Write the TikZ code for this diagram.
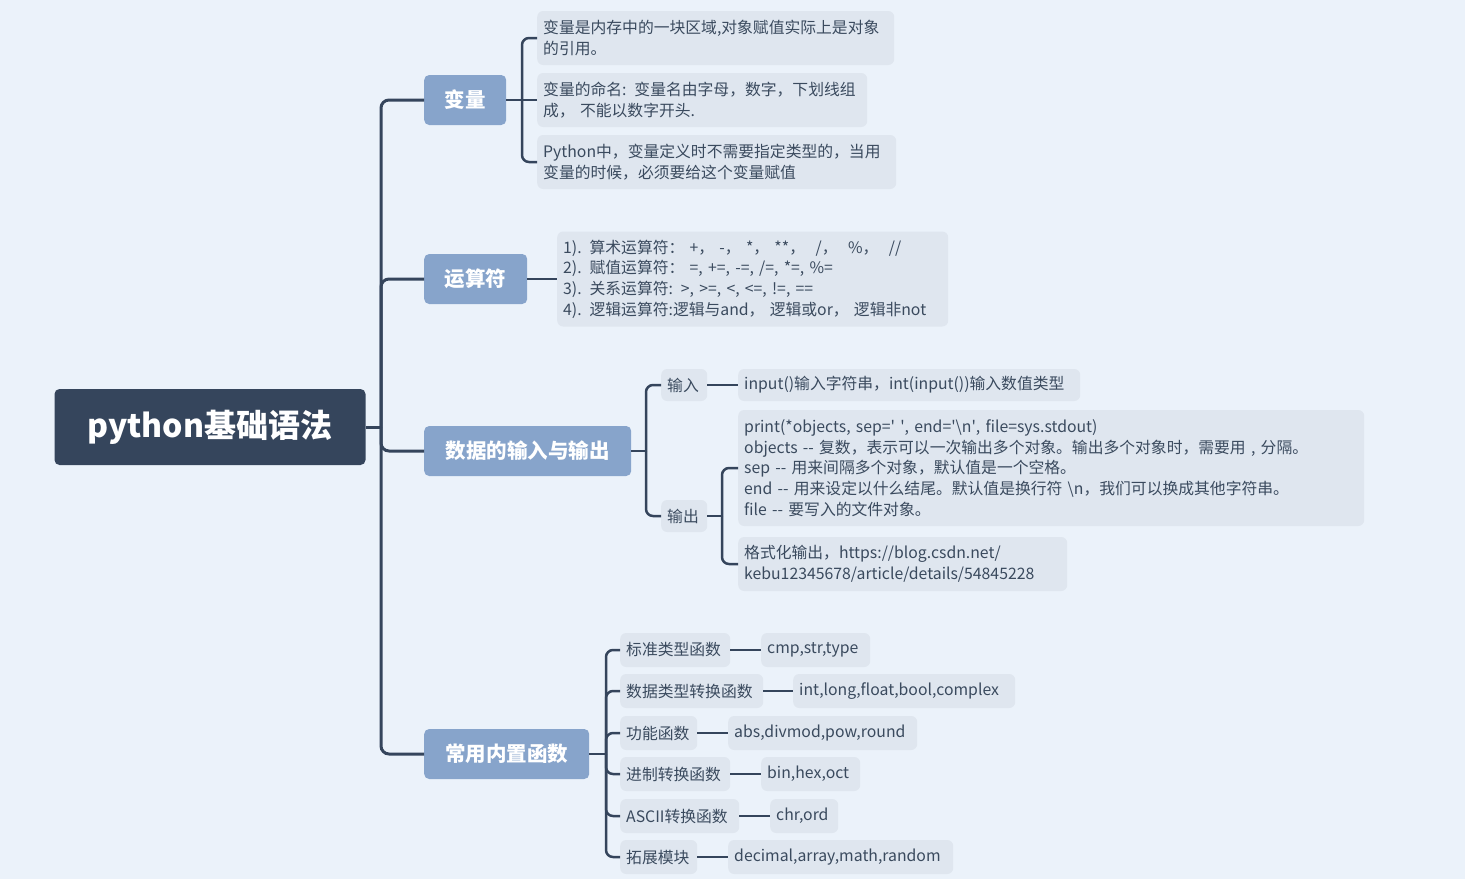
\documentclass[tikz,border=0pt]{standalone}
\usepackage{fontspec}
\newfontfamily\cjk{Noto Sans CJK SC}
\usepackage{tikz}
\usetikzlibrary{positioning, calc}
\definecolor{bgc}{HTML}{EBF2FA}
\definecolor{rootc}{HTML}{35455C}
\definecolor{topicc}{HTML}{87A4CB}
\definecolor{leafc}{HTML}{DFE6EF}
\definecolor{linec}{HTML}{35455C}
\definecolor{textc}{HTML}{3A4A5E}

\begin{document}
\begin{tikzpicture}[x=1pt, y=-1pt,
  rootbox/.style={fill=rootc, rounded corners=5pt, text=white, inner sep=0pt,
    font=\cjk\bfseries\fontsize{32}{38}\selectfont, minimum width=311pt, minimum height=76pt},
  topic/.style={fill=topicc, rounded corners=5pt, text=white, inner sep=0pt, anchor=west,
    font=\cjk\bfseries\fontsize{20.5}{24}\selectfont, minimum height=50pt},
  leaf/.style={fill=leafc, rounded corners=6pt, text=textc, anchor=west, align=left,
    inner xsep=6pt, inner ysep=0pt, minimum height=34pt,
    font=\cjk\fontsize{15.8}{20.7}\selectfont},
  trunk/.style={draw=linec, line width=3pt, rounded corners=8pt},
  conn/.style={draw=linec, line width=2.5pt, rounded corners=7pt}]

  \useasboundingbox (0,0) rectangle (1465,879);
  \fill[bgc] (0,0) rectangle (1465,879);

  % root and topics
  \node[rootbox] (root) at (210,427) {python基础语法};
  \node[topic, minimum width=82pt] (var) at (424,100) {变量};
  \node[topic, minimum width=103pt] (ops) at (424,279) {运算符};
  \node[topic, minimum width=207pt] (io) at (424,451) {数据的输入与输出};
  \node[topic, minimum width=165pt] (fn) at (424,754) {常用内置函数};

  \coordinate (hub) at (381,427);
  \draw[trunk] (root.east) -- (hub);
  \foreach \t in {var,ops,io,fn}
    \draw[trunk] (hub) |- (\t.west);

  % 变量
  \node[leaf, text width=345pt, minimum height=54pt] (var1) at (537,38)
    {变量是内存中的一块区域,对象赋值实际上是对象\\的引用。};
  \node[leaf, text width=318pt, minimum height=54pt] (var2) at (537,100)
    {变量的命名: 变量名由字母，数字，下划线组\\成， 不能以数字开头.};
  \node[leaf, text width=347pt, minimum height=54pt] (var3) at (537,162)
    {Python中，变量定义时不需要指定类型的，当用\\变量的时候，必须要给这个变量赋值};
  \coordinate (bvar) at (522,100);
  \draw[conn] (var.east) -- (bvar);
  \draw[conn] (bvar) |- (var1.west);
  \draw[conn] (bvar) -- (var2.west);
  \draw[conn] (bvar) |- (var3.west);

  % 运算符
  \node[leaf, text width=379pt, minimum height=95pt] (opsl) at (557,279)
    {1). 算术运算符： +， -， *， **，\ \ /，\ \ \%，\ \ //\\
     2). 赋值运算符： =, +=, -=, /=, *=, \%=\\
     3). 关系运算符: >, >=, <, <=, !=, ==\\
     4). 逻辑运算符:逻辑与and，\ 逻辑或or，\ 逻辑非not};
  \draw[conn] (ops.east) -- (opsl.west);

  % 数据的输入与输出
  \node[leaf, text width=34pt, minimum height=32pt] (in) at (661,385) {输入};
  \node[leaf, text width=34pt, minimum height=32pt] (out) at (661,516) {输出};
  \node[leaf, text width=330pt, minimum height=32pt] (inl) at (738,385)
    {input()输入字符串，int(input())输入数值类型};
  \node[leaf, text width=614pt, minimum height=116pt] (print) at (738,468)
    {print(*objects, sep=\textquotesingle\ \textquotesingle, end=\textquotesingle\textbackslash n\textquotesingle, file=sys.stdout)\\
     objects -- 复数，表示可以一次输出多个对象。输出多个对象时，需要用 , 分隔。\\
     sep -- 用来间隔多个对象，默认值是一个空格。\\
     end -- 用来设定以什么结尾。默认值是换行符 \textbackslash n，我们可以换成其他字符串。\\
     file -- 要写入的文件对象。};
  \node[leaf, text width=317pt, minimum height=54pt] (fmt) at (738,564)
    {格式化输出，https://blog.csdn.net/\\kebu12345678/article/details/54845228};
  \coordinate (bio) at (646,451);
  \coordinate (bout) at (722,516);
  \draw[conn] (io.east) -- (bio);
  \draw[conn] (bio) |- (in.west);
  \draw[conn] (bio) |- (out.west);
  \draw[conn] (in.east) -- (inl.west);
  \draw[conn] (out.east) -- (bout);
  \draw[conn] (bout) |- (print.west);
  \draw[conn] (bout) |- (fmt.west);

  % 常用内置函数
  \node[leaf, text width=98pt] (std) at (620,650) {标准类型函数};
  \node[leaf, text width=131pt] (conv) at (620,691) {数据类型转换函数};
  \node[leaf, text width=65pt] (func) at (620,733) {功能函数};
  \node[leaf, text width=98pt] (base) at (620,774) {进制转换函数};
  \node[leaf, text width=107pt] (ascii) at (620,816) {ASCII转换函数};
  \node[leaf, text width=65pt] (ext) at (620,857) {拓展模块};
  \node[leaf, text width=97pt] (stdl) at (761,650) {cmp,str,type};
  \node[leaf, text width=210pt] (convl) at (793,691) {int,long,float,bool,complex};
  \node[leaf, text width=177pt] (funcl) at (728,733) {abs,divmod,pow,round};
  \node[leaf, text width=87pt] (basel) at (761,774) {bin,hex,oct};
  \node[leaf, text width=56pt] (asciil) at (770,816) {chr,ord};
  \node[leaf, text width=213pt] (extl) at (728,857) {decimal,array,math,random};
  \coordinate (bfn) at (606,754);
  \draw[conn] (fn.east) -- (bfn);
  \foreach \f in {std,conv,func,base,ascii,ext} {
    \draw[conn] (bfn) |- (\f.west);
    \draw[conn] (\f.east) -- (\f l.west);
  }
\end{tikzpicture}
\end{document}
